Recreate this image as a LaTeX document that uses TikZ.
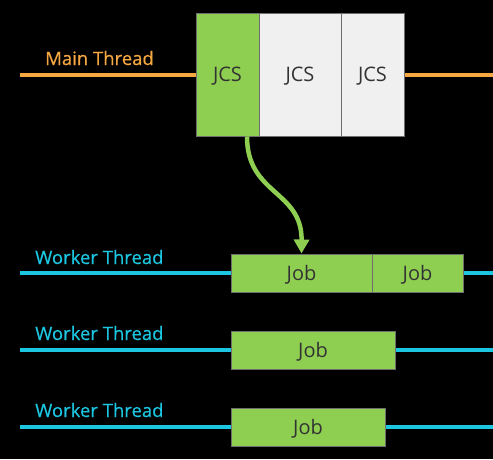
\documentclass[tikz,border=0pt]{standalone}
\usepackage{fontspec}
\setmainfont{Open Sans}
\newfontfamily\lblfont[FakeBold=0.5]{Open Sans}
\usetikzlibrary{arrows.meta}
\begin{document}
\begin{tikzpicture}[x=1pt,y=-1pt,
  mainline/.style={draw=orangeT,line width=4pt},
  workline/.style={draw=cyanT,line width=4pt},
  lbl/.style={anchor=base west,inner sep=0pt,font=\lblfont\fontsize{18.5}{22}\selectfont},
  box/.style={draw=boxedge,line width=1pt,inner sep=0pt,text height=14.3pt,text depth=0pt,font=\fontsize{20}{24}\selectfont,text=textdark},
]
\definecolor{orangeT}{HTML}{F5A742}
\definecolor{cyanT}{HTML}{1CC6E0}
\definecolor{greenT}{HTML}{8ECF52}
\definecolor{greyT}{HTML}{F0F0F0}
\definecolor{boxedge}{HTML}{6E6E6E}
\definecolor{textdark}{HTML}{333333}
\fill[black] (0,0) rectangle (493,459);
\useasboundingbox (0,0) rectangle (493,459);
% main thread
\coordinate (m0) at (20,75);
\coordinate (m1) at (493,75);
\draw[mainline] (m0) -- (m1);
\node[lbl,text=orangeT] (mlabel) at (45,65) {Main Thread};
\node[box,fill=greenT,minimum width=63,minimum height=123] (j1) at (227.5,74.5) {JCS};
\node[box,fill=greyT,minimum width=82,minimum height=123] (j2) at (300,74.5) {JCS};
\node[box,fill=greyT,minimum width=63,minimum height=123] (j3) at (372.5,74.5) {JCS};
% worker 1
\coordinate (w1a) at (20,273);
\coordinate (w1b) at (493,273);
\draw[workline] (w1a) -- (w1b);
\node[lbl,text=cyanT] (wl1) at (35,264) {Worker Thread};
\node[box,fill=greenT,minimum width=141,minimum height=38] (k1) at (301.5,273) {Job};
\node[box,fill=greenT,minimum width=91,minimum height=38] (k2) at (417.5,273) {Job};
% worker 2
\coordinate (w2a) at (20,350);
\coordinate (w2b) at (493,350);
\draw[workline] (w2a) -- (w2b);
\node[lbl,text=cyanT] (wl2) at (35,340) {Worker Thread};
\node[box,fill=greenT,minimum width=164,minimum height=38] (k3) at (313,350) {Job};
% worker 3
\coordinate (w3a) at (20,427);
\coordinate (w3b) at (493,427);
\draw[workline] (w3a) -- (w3b);
\node[lbl,text=cyanT] (wl3) at (35,417) {Worker Thread};
\node[box,fill=greenT,minimum width=154,minimum height=38] (k4) at (308,427) {Job};
% arrow
\draw[draw=greenT,line width=4.5pt,-{Triangle[length=14pt,width=15pt]}]
  ([xshift=19.5]j1.south) .. controls (247,195) and (302,190) .. (k1.north);
\end{tikzpicture}
\end{document}
